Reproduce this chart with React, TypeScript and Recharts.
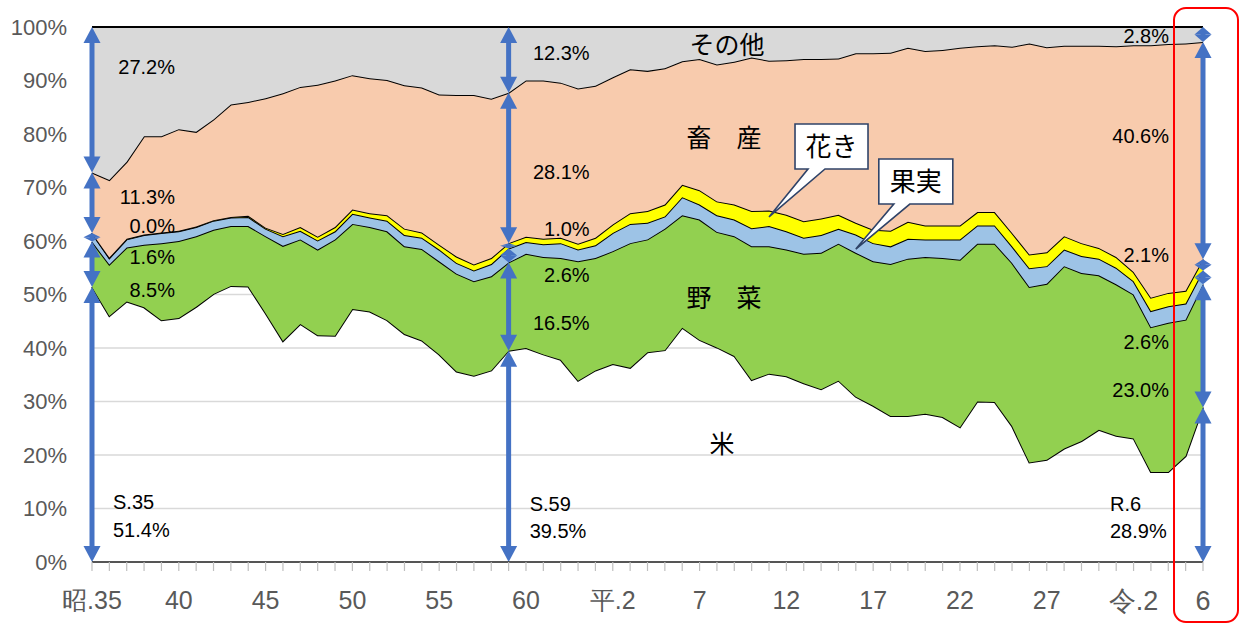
import React from 'react';
import { AreaChart, Area, XAxis, YAxis, CartesianGrid, ReferenceLine, ReferenceDot } from 'recharts';

// ---- categories (S.35 = 1960 ... R.6 = 2024) ----
const years: string[] = [
  'S35','S36','S37','S38','S39','S40','S41','S42','S43','S44',
  'S45','S46','S47','S48','S49','S50','S51','S52','S53','S54',
  'S55','S56','S57','S58','S59','S60','S61','S62','S63','H1',
  'H2','H3','H4','H5','H6','H7','H8','H9','H10','H11',
  'H12','H13','H14','H15','H16','H17','H18','H19','H20','H21',
  'H22','H23','H24','H25','H26','H27','H28','H29','H30','R1',
  'R2','R3','R4','R5','R6',
];

// ---- series values (% share) ----
const rice = [
  51.4,46.0,48.7,47.6,45.2,45.6,47.7,50.1,51.6,51.5,
  46.5,41.3,44.5,42.4,42.3,47.3,46.8,45.2,42.6,41.4,
  38.8,35.6,34.8,35.8,39.5,40.0,38.8,37.8,33.9,35.8,
  37.0,36.3,39.2,39.6,43.8,41.5,40.1,38.5,34.0,35.2,
  34.7,33.4,32.3,33.9,30.9,29.2,27.3,27.3,27.7,27.1,
  25.2,30.0,29.9,25.4,18.6,19.1,21.2,22.6,24.7,23.6,
  23.1,16.8,16.8,19.8,28.9,
];
const vegetables = [
  8.5,9.6,10.1,11.7,14.4,14.4,13.2,12.0,11.2,11.3,
  14.4,17.8,15.8,16.0,18.0,15.9,15.8,16.6,16.4,17.1,
  17.4,18.3,17.7,17.6,16.5,17.6,18.2,19.0,22.3,21.0,
  21.1,23.3,21.1,22.7,21.0,22.5,21.6,22.4,25.0,23.8,
  23.7,24.2,25.5,25.6,26.9,27.0,28.4,29.4,29.3,29.7,
  31.3,29.5,29.6,30.5,32.8,32.9,34.1,31.4,28.9,28.3,
  26.9,27.1,27.9,25.5,23.0,
];
const fruit = [
  1.6,1.2,1.5,1.8,1.9,1.8,1.7,1.7,1.6,1.7,
  1.4,1.8,1.6,1.7,1.5,1.9,1.8,2.0,2.1,2.1,
  2.2,2.0,2.0,2.3,2.6,2.2,2.4,2.8,2.2,2.4,
  3.4,3.6,3.1,2.3,3.4,2.8,3.1,3.1,3.4,3.8,
  3.4,3.0,3.3,2.8,3.4,3.4,3.3,3.7,3.3,3.5,
  3.8,3.4,3.4,3.1,3.5,3.3,3.1,3.2,3.1,3.1,
  2.5,3.0,3.1,3.0,2.6,
];
const flowers = [
  0.0,0.1,0.1,0.1,0.1,0.1,0.1,0.1,0.1,0.2,
  0.2,0.4,0.7,0.7,0.8,0.8,0.8,1.0,1.2,1.0,
  0.9,1.2,1.1,1.1,1.0,1.0,1.0,1.0,1.1,1.4,
  1.6,2.0,2.2,2.2,2.3,2.7,2.6,2.8,3.2,2.9,
  3.1,3.1,3.1,2.6,2.2,2.5,2.9,3.2,2.6,2.6,
  2.6,2.5,2.5,2.5,2.6,2.6,2.5,2.4,2.0,2.0,
  1.7,2.5,2.5,2.4,2.1,
];
const livestock = [
  11.3,14.5,14.4,18.4,18.0,19.0,17.7,18.8,21.0,21.3,
  24.2,26.3,26.2,28.4,27.4,25.1,25.2,25.3,26.8,27.1,
  28.1,30.2,31.7,29.8,28.1,29.2,29.6,29.0,29.0,28.4,
  27.5,26.9,26.2,25.5,23.1,24.5,25.6,26.7,28.7,28.0,
  28.9,30.3,29.8,29.2,31.7,33.0,33.3,32.5,32.6,32.8,
  33.2,31.0,31.2,34.8,39.4,38.3,35.6,36.9,37.8,39.4,
  42.4,47.2,46.5,46.2,40.6,
];
const other = [
  27.2,28.6,25.2,20.4,20.4,19.1,19.6,17.3,14.5,14.0,
  13.3,12.4,11.2,10.8,10.0,9.0,9.6,9.9,10.9,11.3,
  12.6,12.7,12.7,13.4,12.3,10.0,10.0,10.4,11.5,11.0,
  9.4,7.9,8.2,7.7,6.4,6.0,7.0,6.5,5.7,6.3,
  6.2,6.0,6.0,5.9,4.9,4.9,4.8,3.9,4.5,4.3,
  3.9,3.6,3.4,3.7,3.1,3.8,3.5,3.5,3.5,3.6,
  3.4,3.4,3.2,3.1,2.8,
];

// ---- tick labels ----
const tickLabels: Record<string, string> = {
  S35: '昭.35', S40: '40', S45: '45', S50: '50', S55: '55', S60: '60',
  H2: '平.2', H7: '7', H12: '12', H17: '17', H22: '22', H27: '27',
  R2: '令.2', R6: '6',
};
const yTicks = [0, 10, 20, 30, 40, 50, 60, 70, 80, 90, 100];

// ---- series definitions ----
const seriesKeys = ['rice', 'vegetables', 'fruit', 'flowers', 'livestock', 'other'];
const seriesNames = ['米', '野菜', '果実', '花き', '畜産', 'その他'];
const seriesFills = ['none', '#92D050', '#9DC3E6', '#FFFF00', '#F8CBAD', '#D9D9D9'];
const seriesArrays = [rice, vegetables, fruit, flowers, livestock, other];

const data = years.map((year, i) => ({
  year,
  rice: rice[i],
  vegetables: vegetables[i],
  fruit: fruit[i],
  flowers: flowers[i],
  livestock: livestock[i],
  other: other[i],
}));

// ---- annotations ----
const arrowYears = ['S35', 'S59', 'R6'];
const annoLayout = [
  { year: 'S35', tag: 'S.35', dx: 83, tagDx: 21, ys: [6.1, 50.8, 57.0, 62.8, 68.2, 92.5], tagY: 11.3 },
  { year: 'S59', tag: 'S.59', dx: 81, tagDx: 21, ys: [5.9, 44.7, 53.6, 62.2, 72.9, 95.1], tagY: 10.9 },
  { year: 'R6', tag: 'R.6', dx: -34, tagDx: -93, ys: [5.9, 32.2, 41.1, 57.5, 79.6, 98.4], tagY: 10.9 },
];
const regionLabels = [
  { text: 'その他', year: 'H8', y: 96.7, dx: 10 },
  { text: '畜　産', year: 'H8', y: 79.2, dx: 7 },
  { text: '野　菜', year: 'H8', y: 49.3, dx: 7 },
  { text: '米', year: 'H8', y: 22.1, dx: 5 },
];
const callouts = [
  { text: '花き', year: 'H11', y: 64.5, box: [26, 99, -93, -48], base: [39, 56] },
  { text: '果実', year: 'H16', y: 58.5, box: [23, 97, -90, -45], base: [38, 54] },
];

const ARROW = '#4472C4';
const LABEL_FONT = '"Liberation Sans", Arial, sans-serif';
const JP_FONT = '"Noto Sans CJK JP", "Noto Sans", sans-serif';

const ArrowShape = (props: any) => {
  const { x1, y1, y2 } = props;
  if (x1 == null || y1 == null || y2 == null) return null;
  const top = Math.min(y1, y2);
  const bot = Math.max(y1, y2);
  const len = bot - top;
  const h = Math.min(16, len / 2);
  const w = 8.5;
  return (
    <g>
      <line x1={x1} x2={x1} y1={top + h * 0.7} y2={bot - h * 0.7} stroke={ARROW} strokeWidth={5} />
      <polygon points={`${x1},${top} ${x1 - w},${top + h} ${x1 + w},${top + h}`} fill={ARROW} />
      <polygon points={`${x1},${bot} ${x1 - w},${bot - h} ${x1 + w},${bot - h}`} fill={ARROW} />
    </g>
  );
};

const textShape = (text: string, dx: number, anchor: string, size: number, font: string) =>
  (p: any) => (
    <text x={p.cx + dx} y={p.cy} dy="0.36em" textAnchor={anchor} fontSize={size} fontFamily={font} fill="#000">
      {text}
    </text>
  );

const calloutShape = (c: typeof callouts[number]) => (p: any) => {
  const tx = p.cx;
  const ty = p.cy;
  const [bx0, bx1, by0, by1] = c.box;
  const [b0, b1] = c.base;
  const d = `M${tx + bx0},${ty + by0} H${tx + bx1} V${ty + by1} H${tx + b1} L${tx},${ty} L${tx + b0},${ty + by1} H${tx + bx0} Z`;
  return (
    <g>
      <path d={d} fill="#fff" stroke="#2F4368" strokeWidth={1.6} strokeLinejoin="miter" />
      <text x={tx + (bx0 + bx1) / 2} y={ty + (by0 + by1) / 2} dy="0.36em" textAnchor="middle" fontSize={26} fontFamily={JP_FONT} fill="#000">
        {c.text}
      </text>
    </g>
  );
};

const XTick = (props: any) => {
  const { x, y, payload } = props;
  const label = tickLabels[payload.value];
  if (!label) return null;
  const big = payload.value === 'R6' || payload.value === 'R2';
  return (
    <text x={x} y={y} dy="0.71em" textAnchor="middle" fontSize={big ? 27 : 25} fontFamily={LABEL_FONT} fill="#595959">
      {label}
    </text>
  );
};

const fmt = (v: number) => `${v.toFixed(1)}%`;

export default function App() {
  const arrowSegments: { year: string; lo: number; hi: number }[] = [];
  arrowYears.forEach((yr) => {
    const idx = years.indexOf(yr);
    let cum = 0;
    seriesArrays.forEach((arr) => {
      const lo = cum;
      cum += arr[idx];
      if (arr[idx] > 0.05) arrowSegments.push({ year: yr, lo, hi: Math.min(100, cum) });
    });
  });

  return (
    <div style={{ position: 'absolute', left: 0, top: 0, width: 1244, height: 624, background: '#fff' }}>
      <AreaChart width={1244} height={624} data={data} margin={{ top: 27, right: 41, bottom: 22, left: 0 }}>
        <CartesianGrid vertical={false} stroke="#D9D9D9" strokeWidth={1.5} />
        <XAxis
          dataKey="year"
          interval={0}
          height={40}
          tickSize={9}
          tickMargin={20}
          tickLine={{ stroke: '#BFBFBF', strokeWidth: 1.2 }}
          axisLine={{ stroke: '#262626', strokeWidth: 1.5 }}
          tick={(p: any) => <XTick {...p} />}
        />
        <YAxis
          type="number"
          domain={[0, 100]}
          ticks={yTicks}
          width={92}
          axisLine={false}
          tickLine={false}
          tickSize={0}
          tickMargin={25}
          tickFormatter={(v: number) => `${v}%`}
          tick={{ fill: '#595959', fontSize: 22, fontFamily: LABEL_FONT }}
        />
        {seriesKeys.map((k, i) => (
          <Area
            key={k}
            type="linear"
            dataKey={k}
            name={seriesNames[i]}
            stackId="1"
            fill={seriesFills[i]}
            fillOpacity={seriesFills[i] === 'none' ? 0 : 1}
            stroke="#000"
            strokeWidth={2}
            dot={false}
            activeDot={false}
            isAnimationActive={false}
          />
        ))}
        {regionLabels.map((r) => (
          <ReferenceDot key={r.text} x={r.year} y={r.y} r={0} shape={textShape(r.text, r.dx, 'middle', 25, JP_FONT)} />
        ))}
        {callouts.map((c) => (
          <ReferenceDot key={c.text} x={c.year} y={c.y} r={0} shape={calloutShape(c)} />
        ))}
        {arrowSegments.map((s, i) => (
          <ReferenceLine
            key={`a${i}`}
            segment={[{ x: s.year, y: s.lo }, { x: s.year, y: s.hi }]}
            shape={(p: any) => <ArrowShape {...p} />}
          />
        ))}
        {annoLayout.map((a) => {
          const idx = years.indexOf(a.year);
          return (
            <React.Fragment key={a.year}>
              {seriesArrays.map((arr, si) => (
                <ReferenceDot
                  key={`${a.year}-${si}`}
                  x={a.year}
                  y={a.ys[si]}
                  r={0}
                  shape={
                    si === 0
                      ? textShape(fmt(arr[idx]), a.tagDx, 'start', 20, LABEL_FONT)
                      : textShape(fmt(arr[idx]), a.dx, 'end', 20, LABEL_FONT)
                  }
                />
              ))}
              <ReferenceDot x={a.year} y={a.tagY} r={0} shape={textShape(a.tag, a.tagDx, 'start', 20, LABEL_FONT)} />
            </React.Fragment>
          );
        })}
      </AreaChart>
      <div
        style={{
          position: 'absolute',
          left: 1173,
          top: 7,
          width: 66,
          height: 616,
          border: '2.5px solid #FF0000',
          borderRadius: 13,
          boxSizing: 'border-box',
          pointerEvents: 'none',
        }}
      />
    </div>
  );
}
